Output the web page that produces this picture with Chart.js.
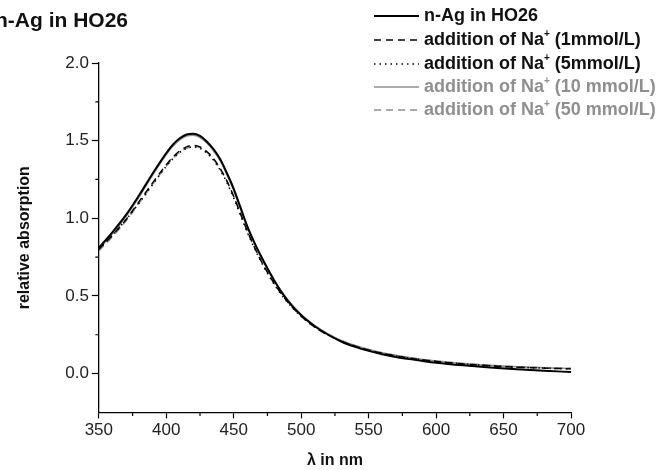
<!DOCTYPE html>
<html>
<head>
<meta charset="utf-8">
<script src="https://cdn.jsdelivr.net/npm/chart.js@4/dist/chart.umd.min.js"></script>
<style>
  body { margin: 0; background: #fff; }
  #wrap { width: 664px; height: 470px; position: relative; }
</style>
</head>
<body>
<div id="wrap"><canvas id="myChart"></canvas></div>
<script>
// wavelengths (nm)
const wavelengths = [350, 360, 370, 380, 390, 400, 405, 410, 415, 420, 425, 430, 435, 440, 445, 450, 455, 460, 465, 470,
  480, 490, 500, 510, 520, 530, 540, 550, 560, 570, 580, 590, 600, 620, 640, 660, 680, 700];

const nAg = [0.81, 0.91, 1.02, 1.15, 1.29, 1.42, 1.475, 1.515, 1.54, 1.545, 1.53, 1.495, 1.445, 1.38, 1.29, 1.19, 1.07, 0.95, 0.85, 0.76,
  0.60, 0.47, 0.375, 0.305, 0.25, 0.205, 0.172, 0.146, 0.125, 0.107, 0.093, 0.081, 0.07, 0.053, 0.039, 0.028, 0.018, 0.01];
const na1 = [0.80, 0.89, 0.99, 1.11, 1.23, 1.345, 1.395, 1.435, 1.46, 1.47, 1.46, 1.43, 1.385, 1.32, 1.24, 1.14, 1.03, 0.92, 0.82, 0.73,
  0.58, 0.46, 0.37, 0.30, 0.248, 0.207, 0.176, 0.151, 0.131, 0.114, 0.10, 0.088, 0.078, 0.062, 0.05, 0.041, 0.035, 0.03];
const na5 = [0.80, 0.89, 0.99, 1.10, 1.22, 1.335, 1.385, 1.425, 1.45, 1.46, 1.45, 1.42, 1.375, 1.31, 1.23, 1.13, 1.02, 0.91, 0.815, 0.725,
  0.575, 0.458, 0.368, 0.30, 0.248, 0.207, 0.176, 0.151, 0.131, 0.114, 0.10, 0.088, 0.078, 0.062, 0.05, 0.041, 0.035, 0.03];
const na10 = [0.80, 0.90, 1.01, 1.14, 1.28, 1.41, 1.465, 1.505, 1.53, 1.535, 1.52, 1.485, 1.435, 1.37, 1.28, 1.18, 1.06, 0.945, 0.845, 0.755,
  0.60, 0.475, 0.38, 0.31, 0.255, 0.212, 0.18, 0.155, 0.134, 0.117, 0.103, 0.091, 0.081, 0.065, 0.053, 0.044, 0.038, 0.033];
const na50 = [0.79, 0.88, 0.98, 1.10, 1.22, 1.335, 1.385, 1.425, 1.45, 1.46, 1.455, 1.425, 1.38, 1.315, 1.235, 1.14, 1.03, 0.92, 0.82, 0.735,
  0.585, 0.465, 0.375, 0.307, 0.253, 0.212, 0.18, 0.155, 0.134, 0.117, 0.103, 0.091, 0.081, 0.065, 0.053, 0.044, 0.038, 0.034];

// axis ticks
const xTicks = [350, 400, 450, 500, 550, 600, 650, 700];
const xMinor = [375, 425, 475, 525, 575, 625, 675];
const yTicks = [0, 0.5, 1.0, 1.5, 2.0];
const yMinor = [0.25, 0.75, 1.25, 1.75];

const seriesLabels = [
  "n-Ag in HO26",
  "addition of Na+ (1mmol/L)",
  "addition of Na+ (5mmol/L)",
  "addition of Na+ (10 mmol/L)",
  "addition of Na+ (50 mmol/L)",
];
const seriesValues = [nAg, na1, na5, na10, na50];

const GRAY = "#8f8f8f";
const styles = [
  { color: "#000", width: 2, dash: [] },
  { color: "#000", width: 1.4, dash: [7, 5] },
  { color: "#000", width: 1.6, dash: [1.5, 4] },
  { color: GRAY, width: 1.6, dash: [] },
  { color: GRAY, width: 1.5, dash: [7, 5] },
];
const drawOrder = [3, 4, 1, 2, 0];

function pts(vals) {
  return wavelengths.map((w, i) => ({ x: w, y: vals[i] }));
}

const datasets = drawOrder.map((k) => ({
  label: seriesLabels[k],
  data: pts(seriesValues[k]),
  borderColor: styles[k].color,
  borderWidth: styles[k].width,
  borderDash: styles[k].dash,
  pointRadius: 0,
  fill: false,
  cubicInterpolationMode: "monotone",
  order: k,
}));

const FONT = "'Liberation Sans', Arial, sans-serif";

// minor ticks, title and legend drawn on top
const decor = {
  id: "decor",
  afterDraw(chart) {
    const ctx = chart.ctx;
    const xs = chart.scales.x, ys = chart.scales.y;
    const a = chart.chartArea;
    ctx.save();
    ctx.strokeStyle = "#000";
    ctx.lineWidth = 1.2;
    ctx.beginPath();
    xMinor.forEach((v) => {
      const px = xs.getPixelForValue(v);
      ctx.moveTo(px, a.bottom);
      ctx.lineTo(px, a.bottom + 3.5);
    });
    yMinor.forEach((v) => {
      const py = ys.getPixelForValue(v);
      ctx.moveTo(a.left, py);
      ctx.lineTo(a.left - 3.5, py);
    });
    ctx.stroke();

    // title
    ctx.fillStyle = "#111";
    ctx.font = "bold 21px " + FONT;
    ctx.textBaseline = "alphabetic";
    ctx.textAlign = "left";
    ctx.fillText("n-Ag in HO26", -5, 27);

    // legend
    const rowY = [16, 40, 64, 87, 110];
    ctx.textBaseline = "middle";
    seriesLabels.forEach((lab, k) => {
      const st = styles[k];
      const y = rowY[k];
      ctx.strokeStyle = st.color;
      ctx.lineWidth = st.width;
      ctx.setLineDash(st.dash);
      ctx.beginPath();
      ctx.moveTo(374, y);
      ctx.lineTo(419, y);
      ctx.stroke();
      ctx.setLineDash([]);
      ctx.fillStyle = k < 3 ? "#111" : GRAY;
      let x = 424;
      const parts = lab.split("+");
      ctx.font = "bold 18px " + FONT;
      if (parts.length === 2) {
        ctx.fillText(parts[0], x, y);
        x += ctx.measureText(parts[0]).width;
        ctx.font = "bold 10px " + FONT;
        ctx.fillText("+", x, y - 6);
        x += ctx.measureText("+").width;
        ctx.font = "bold 18px " + FONT;
        ctx.fillText(parts[1], x, y);
      } else {
        ctx.fillText(lab, x, y);
      }
    });
    ctx.restore();
  },
};

const ctxEl = document.getElementById("myChart");
new Chart(ctxEl, {
  type: "line",
  data: { datasets: datasets },
  plugins: [decor],
  options: {
    responsive: true,
    maintainAspectRatio: false,
    animation: false,
    layout: { padding: { left: 15, right: 93, top: 63, bottom: 0 } },
    plugins: { legend: { display: false }, tooltip: { enabled: false } },
    scales: {
      x: {
        type: "linear",
        min: 350,
        max: 700,
        afterBuildTicks: (axis) => { axis.ticks = xTicks.map((v) => ({ value: v })); },
        grid: { drawOnChartArea: false, drawTicks: true, tickLength: 6, tickWidth: 1.2, tickColor: "#000" },
        border: { color: "#000", width: 1.3 },
        ticks: { color: "#222", font: { family: FONT, size: 17 }, padding: 2, maxRotation: 0 },
        title: { display: true, text: "λ in nm", color: "#111", font: { family: FONT, size: 16, weight: "bold" }, padding: { top: 8, bottom: 0 } },
      },
      y: {
        type: "linear",
        min: -0.25,
        max: 2.0,
        afterBuildTicks: (axis) => { axis.ticks = yTicks.map((v) => ({ value: v })); },
        grid: { drawOnChartArea: false, drawTicks: true, tickLength: 7, tickWidth: 1.2, tickColor: "#000" },
        border: { color: "#000", width: 1.3 },
        ticks: { color: "#222", font: { family: FONT, size: 17 }, padding: 3, callback: (v) => v.toFixed(1) },
        title: { display: true, text: "relative absorption", color: "#111", font: { family: FONT, size: 16, weight: "bold" }, padding: { top: 0, bottom: 28 } },
      },
    },
  },
});
</script>
</body>
</html>
